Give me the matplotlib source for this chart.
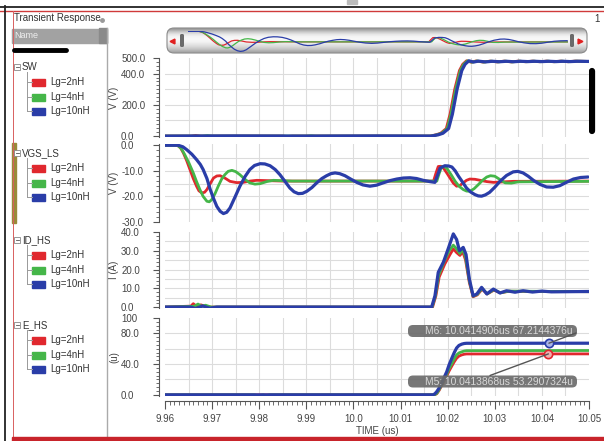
import numpy as np
import matplotlib
matplotlib.use("Agg")
import matplotlib.pyplot as plt
from matplotlib.patches import Rectangle, FancyBboxPatch, ConnectionPatch
from matplotlib.ticker import MultipleLocator, FixedLocator, FixedFormatter

plt.rcParams["font.family"] = ["Liberation Sans", "DejaVu Sans"]

W, H = 604, 441
RED, GREEN, BLUE = "#e0282e", "#45b649", "#2a3da8"

runs = ["Lg=2nH", "Lg=4nH", "Lg=10nH"]
signals = ["SW", "VGS_LS", "ID_HS", "E_HS"]
ylabels = ["V (V)", "V (V)", "I (A)", "(u)"]
time_ticks = [9.96, 9.97, 9.98, 9.99, 10.0, 10.01, 10.02, 10.03, 10.04, 10.05]
time_labels = ["9.96", "9.97", "9.98", "9.99", "10.0", "10.01", "10.02", "10.03", "10.04", "10.05"]

# (time us, value) pairs
sw_red = [(9.96, 0), (9.9655, 0), (9.9665, 4), (9.9675, 0), (9.985, 0), (9.986, -3), (9.987, 0),
          (10.0162, 0), (10.0175, 8), (10.0185, 18), (10.0197, 48), (10.0205, 140), (10.0215, 300),
          (10.0225, 420), (10.0232, 460), (10.024, 482), (10.025, 473), (10.026, 481), (10.0275, 474),
          (10.029, 480), (10.0305, 475), (10.032, 480), (10.0335, 475), (10.035, 480), (10.0365, 476),
          (10.038, 480), (10.0395, 476), (10.041, 480), (10.0425, 476), (10.044, 480), (10.0455, 476),
          (10.047, 480), (10.05, 478)]
sw_green = [(9.96, 0), (9.968, 0), (9.969, 3), (9.970, 0), (9.99, 0), (9.991, 2), (9.992, 0),
            (10.0164, 0), (10.0177, 8), (10.0187, 18), (10.0199, 48), (10.0207, 140), (10.0217, 300),
            (10.0227, 420), (10.0234, 460), (10.0242, 482), (10.0252, 473), (10.0262, 481),
            (10.0277, 474), (10.0292, 480), (10.0307, 475), (10.0322, 480), (10.0337, 475),
            (10.0352, 480), (10.0367, 476), (10.0382, 480), (10.0397, 476), (10.0412, 480),
            (10.0427, 476), (10.0442, 480), (10.0457, 476), (10.0472, 480), (10.05, 478)]
sw_blue = [(9.96, 0), (9.975, 1), (9.99, 0), (10.005, 1), (10.0165, 0), (10.018, 8), (10.019, 18),
           (10.0202, 48), (10.021, 140), (10.022, 300), (10.023, 420), (10.0237, 460), (10.0245, 482),
           (10.0255, 474), (10.0265, 480), (10.028, 475), (10.0295, 479), (10.031, 476), (10.0325, 479),
           (10.034, 476), (10.0355, 479), (10.037, 477), (10.0385, 479), (10.04, 477), (10.0415, 479),
           (10.043, 477), (10.0445, 479), (10.046, 477), (10.0475, 479), (10.05, 478)]

vgs_red = [(9.96, 0), (9.9626, 0), (9.9633, -1), (9.9639, -3), (9.9646, -6), (9.9653, -9.5),
           (9.966, -13), (9.9667, -16), (9.9672, -17.8), (9.9678, -18.6), (9.9684, -18.4),
           (9.9689, -17.3), (9.9696, -15), (9.9703, -12.8), (9.971, -12), (9.9717, -11.9),
           (9.9727, -12.8), (9.9738, -14.1), (9.9752, -14.6), (9.9766, -14.5), (9.978, -14),
           (9.9795, -13.7), (9.985, -14), (10.017, -14), (10.0175, -11), (10.018, -8.3),
           (10.0186, -8.2), (10.0191, -8.9), (10.0198, -10.8), (10.0205, -12.8), (10.0212, -14.8),
           (10.0219, -16), (10.0226, -15.7), (10.0233, -14.7), (10.024, -13.7), (10.0247, -13.2),
           (10.0258, -13.3), (10.0269, -13.7), (10.0283, -14.2), (10.0297, -14.5), (10.034, -14.1),
           (10.05, -14)]
vgs_green = [(9.96, 0), (9.9627, 0), (9.9635, -1.4), (9.9642, -3.7), (9.9651, -7), (9.966, -10.8),
             (9.9667, -14.2), (9.9674, -17.3), (9.9681, -20), (9.9689, -21.9), (9.9694, -22.1),
             (9.9699, -21.3), (9.9706, -19), (9.9713, -16), (9.972, -13.3), (9.9727, -11.5),
             (9.9734, -10.2), (9.9742, -9.8), (9.975, -10.3), (9.9759, -11.5), (9.9769, -13.2),
             (9.978, -14.7), (9.9791, -15.2), (9.9802, -15), (9.9816, -14.2), (9.983, -13.7),
             (9.987, -14), (10.0177, -14), (10.0182, -11), (10.0187, -8.5), (10.0192, -8.3),
             (10.0198, -8.9), (10.0207, -11.4), (10.0216, -14.1), (10.0224, -16), (10.0233, -17.3),
             (10.024, -17.9), (10.0247, -18), (10.0256, -17), (10.0265, -15.4), (10.0274, -13.7),
             (10.0283, -12.4), (10.0291, -11.9), (10.03, -12.1), (10.0311, -13.4), (10.0322, -14.7),
             (10.0335, -14.8), (10.035, -14.3), (10.05, -14.1)]
vgs_blue = [(9.96, 0), (9.9628, 0), (9.9638, -0.6), (9.9646, -1.7), (9.9657, -3.5), (9.9667, -5.6),
            (9.9675, -7.5), (9.9681, -9.5), (9.9689, -13), (9.9696, -17.3), (9.9703, -20.8),
            (9.971, -23.9), (9.9717, -25.8), (9.9724, -26.7), (9.9731, -26.2), (9.9738, -24.5),
            (9.9748, -20.5), (9.9759, -16), (9.977, -12.2), (9.978, -9.5), (9.979, -7.9),
            (9.9802, -7.2), (9.9812, -7.3), (9.9823, -8), (9.9834, -9.5), (9.9844, -11.5),
            (9.9855, -14.2), (9.9865, -16.7), (9.9874, -18.2), (9.9883, -18.9), (9.9892, -18.8),
            (9.9901, -18), (9.9912, -16.5), (9.9922, -14.7), (9.9933, -13), (9.9943, -11.9),
            (9.9952, -11.1), (9.9961, -10.8), (9.9971, -11.1), (9.9982, -11.9), (9.9995, -13.3),
            (10.0007, -14.5), (10.002, -15.5), (10.0035, -16), (10.0049, -15.6), (10.0063, -14.7),
            (10.0078, -13.8), (10.0092, -13.2), (10.0106, -12.8), (10.012, -12.7), (10.0134, -13.0),
            (10.0148, -13.7), (10.0162, -14.2), (10.0173, -14.5), (10.0179, -11.5), (10.0184, -8.9),
            (10.0194, -8), (10.0202, -8.1), (10.0209, -8.5), (10.0216, -10), (10.0223, -12.1),
            (10.0232, -14.5), (10.024, -16.7), (10.0249, -18.3), (10.0258, -19.3), (10.0265, -19.8),
            (10.0272, -19.9), (10.028, -19.4), (10.0289, -18.4), (10.03, -16.4), (10.0311, -14.1),
            (10.0325, -11.8), (10.0339, -10.4), (10.0349, -10.2), (10.036, -10.8), (10.0371, -12.1),
            (10.0382, -13.7), (10.0396, -15.3), (10.041, -16.3), (10.0424, -16.4), (10.0438, -15.8),
            (10.0452, -14.5), (10.0467, -13.2), (10.0482, -12.6), (10.0498, -12.4)]

id_red = [(9.96, 0), (9.9655, 0.5), (9.966, 1.8), (9.9668, 0.2), (9.9676, 1.2), (9.969, 0),
          (10.0168, 0), (10.0175, 6), (10.0182, 16), (10.0194, 23), (10.0205, 28), (10.0212, 31),
          (10.0219, 29), (10.0226, 27.5), (10.0232, 29.5), (10.0238, 25), (10.0246, 13),
          (10.0254, 5.5), (10.0263, 6.5), (10.0273, 9.5), (10.0284, 7), (10.0298, 9), (10.0312, 7.6),
          (10.033, 8.4), (10.05, 8.2)]
id_green = [(9.96, 0), (9.9662, 0.4), (9.967, 1.6), (9.9678, 0.3), (9.9686, 1.0), (9.9698, 0),
            (10.0167, 0), (10.0174, 6), (10.0181, 17), (10.0192, 24), (10.0203, 30), (10.0212, 33),
            (10.0219, 31), (10.0226, 28.5), (10.0232, 31), (10.0238, 26.5), (10.0246, 14),
            (10.0254, 5.8), (10.0263, 6.8), (10.0273, 10), (10.0284, 7), (10.0298, 9.3),
            (10.0312, 7.6), (10.033, 8.5), (10.05, 8.2)]
id_blue = [(9.96, 0), (9.9655, 0), (9.9665, -0.8), (9.968, 0.6), (9.9695, -0.6), (9.971, 0),
           (10.0166, 0), (10.0173, 6), (10.018, 18.5), (10.0191, 24), (10.0201, 31), (10.0212, 39),
           (10.0219, 36), (10.0225, 30), (10.0233, 31.8), (10.0239, 28), (10.0246, 15), (10.0254, 6),
           (10.0262, 7), (10.0272, 10.5), (10.0283, 7), (10.0297, 9.6), (10.0311, 7.5), (10.0325, 8.7),
           (10.0343, 7.9), (10.036, 8.7), (10.038, 8.0), (10.04, 8.5), (10.042, 8.1), (10.05, 8.3)]

e_red = [(9.96, 0), (10.0172, 0), (10.0177, 1.5), (10.0182, 6), (10.0187, 11.7), (10.0192, 18),
         (10.0198, 24.7), (10.0203, 31), (10.0209, 37.7), (10.0214, 43), (10.0219, 47.6),
         (10.0224, 50.4), (10.023, 52), (10.0235, 52.8), (10.024, 53.2), (10.05, 53.3)]
e_green = [(9.96, 0), (9.979, 0), (9.9798, -1.2), (9.9808, 0), (9.9815, -1), (9.9822, 0),
           (10.0172, 0), (10.0177, 2), (10.0182, 7), (10.0187, 13), (10.0192, 20), (10.0198, 27),
           (10.0203, 34), (10.0209, 41), (10.0214, 47), (10.0219, 52), (10.0224, 54.6), (10.023, 56),
           (10.0235, 57), (10.024, 57.5), (10.05, 57.7)]
e_blue = [(9.96, 0), (10.0169, 0), (10.0173, 1.5), (10.0177, 4.3), (10.0182, 9), (10.0187, 15),
          (10.0192, 22), (10.0198, 30), (10.0203, 39), (10.0209, 48), (10.0214, 55), (10.0219, 61),
          (10.0224, 64.3), (10.023, 66), (10.0235, 66.8), (10.024, 67.1), (10.05, 67.2)]

m6 = (10.0414906, 67.2144376)
m5 = (10.0413868, 53.2907324)
m6_text = "M6: 10.0414906us 67.2144376u"
m5_text = "M5: 10.0413868us 53.2907324u"

waves = [
    [sw_red, sw_green, sw_blue],
    [vgs_red, vgs_green, vgs_blue],
    [id_red, id_green, id_blue],
    [e_red, e_green, e_blue],
]
colors = [RED, GREEN, BLUE]

# per panel: pixel rows, ylim, major ticks and labels, minor step, grid rows
rows = [(58, 137), (144, 222), (232, 308), (318, 396)]
ylims = [(-6, 500), (-30, 0.5), (-0.5, 40), (-1.5, 100)]
yticks = [[0, 200, 400, 500], [-30, -20, -10, 0], [0, 10, 20, 30, 40], [0, 40, 80, 100]]
yticklabels = [["0.0", "200.0", "400.0", "500.0"], ["-30.0", "-20.0", "-10.0", "0.0"],
               ["0.0", "10.0", "20.0", "30.0", "40.0"], ["0.0", "40.0", "80.0", "100"]]
yminor = [25, 2, 2, 5]
ygrid = [[100, 200, 300, 400], [-25, -20, -15, -10, -5], [5, 10, 15, 20, 25, 30, 35], [20, 40, 60, 80]]
xgrid = np.arange(9.965, 10.0451, 0.005)


def px_rect(x0, y0, x1, y1):
    return [x0 / W, 1 - y1 / H, (x1 - x0) / W, (y1 - y0) / H]


fig = plt.figure(figsize=(W / 100, H / 100), dpi=100)
ov = fig.add_axes([0, 0, 1, 1], zorder=0)
ov.set_xlim(0, W)
ov.set_ylim(H, 0)
ov.axis("off")

# window frame
ov.plot([0, W], [6.5, 6.5], color="#222222", lw=1.3)
ov.plot([0, W], [11, 11], color="#d03a3a", lw=1.0)
ov.plot([5, 5], [6, H], color="#222222", lw=1.3)
ov.plot([12.5, 12.5], [11, 437], color="#d86060", lw=0.7)
ov.add_patch(Rectangle((12, 436.5), W - 12, 5, color="#c8242b", zorder=6))
ov.add_patch(Rectangle((347, 0), 10, 4, color="#bbbbbb"))
ov.plot([107, 107], [28, 436], color="#aaaaaa", lw=1.0)

# browser panel
ov.text(14, 18, "Transient Response", fontsize=7, color="#333333", va="center")
ov.add_patch(Rectangle((12, 29), 95, 14, color="#a2a2a2"))
ov.add_patch(Rectangle((99, 28), 8, 15, color="#8a8a8a"))
ov.text(14, 36, "Name", fontsize=6.5, color="#eeeeee", va="center")
ov.plot([14, 66], [50, 50], color="black", lw=3.5, solid_capstyle="round")
ov.add_patch(Rectangle((12, 143), 4, 80, color="#9a8a3a"))
ov.plot(102, 20, marker="o", ms=2.5, color="#999999")

group_y = [67, 153, 240, 325]
child_dy = [15, 30, 44]
for name, gy in zip(signals, group_y):
    ov.add_patch(Rectangle((14, gy - 3), 6, 6, fc="white", ec="#888888", lw=0.6))
    ov.plot([15.5, 18.5], [gy, gy], color="#555555", lw=0.6)
    ov.text(22, gy, name, fontsize=7, color="#333333", va="center")
    ov.plot([27, 27], [gy + 5, gy + child_dy[-1]], color="#999999", lw=0.7)
    for run, col, dy in zip(runs, colors, child_dy):
        cy = gy + dy
        ov.plot([27, 32], [cy, cy], color="#999999", lw=0.7)
        ov.add_patch(Rectangle((32, cy - 3.5), 13, 7, color=col))
        ov.text(50, cy, run, fontsize=7, color="#333333", va="center")

# overview strip
bar = FancyBboxPatch((167, 28), 420, 25, boxstyle="round,pad=0,rounding_size=7",
                     fc="none", ec="#8a8a8a", lw=0.8, zorder=3)
ov.add_patch(bar)
shade = np.array([0.62, 0.78, 0.9, 0.96, 0.97, 0.95, 0.9, 0.84, 0.76, 0.66])
img = np.repeat(shade[:, None], 2, axis=1)
im = ov.imshow(img, extent=[167, 587, 53, 28], cmap="gray", vmin=0, vmax=1,
               aspect="auto", interpolation="bilinear", zorder=2)
im.set_clip_path(bar)
ov.set_xlim(0, W)
ov.set_ylim(H, 0)
for hx in (182, 572):
    ov.add_patch(FancyBboxPatch((hx - 2, 34), 4, 13, boxstyle="round,pad=0,rounding_size=1.5",
                                fc="#6a6a6a", ec="none", zorder=4))
ov.plot(172, 41, marker="<", ms=3.5, color="#e02020", zorder=4)
ov.plot(580, 41, marker=">", ms=3.5, color="#e02020", zorder=4)

ax_ov = fig.add_axes(px_rect(188, 31, 568, 52), zorder=3)
ax_ov.patch.set_alpha(0)
for pts, col in zip(waves[1], colors):
    t, v = np.array(pts).T
    ax_ov.plot(t, v, color=col, lw=0.9)
ax_ov.set_xlim(9.96, 10.05)
ax_ov.set_ylim(-27.5, 0.5)
ax_ov.axis("off")

# scroll bar on the right
ov.plot([592, 592], [71, 131], color="black", lw=4.5, solid_capstyle="round")
ov.text(597, 19, "1", fontsize=7, color="#333333", ha="center", va="center")

axes = []
for i in range(4):
    y0, y1 = rows[i]
    ax = fig.add_axes(px_rect(165, y0, 589, y1), zorder=2)
    for pts, col in zip(waves[i], colors):
        t, v = np.array(pts).T
        ax.plot(t, v, color=col, lw=2.0 if col != BLUE else 2.3, solid_capstyle="round",
                solid_joinstyle="round", zorder=3)
    ax.set_xlim(9.96, 10.05)
    ax.set_ylim(*ylims[i])
    for gx in xgrid:
        ax.axvline(gx, color="#dcdcdc", lw=0.8, zorder=1)
    for gy in ygrid[i]:
        ax.axhline(gy, color="#dcdcdc", lw=0.8, zorder=1)
    for s in ("top", "right"):
        ax.spines[s].set_visible(False)
    ax.spines["left"].set_position(("outward", 4.3))
    ax.spines["left"].set_color("#555555")
    ax.set_yticks(yticks[i], labels=yticklabels[i], ha="left")
    ax.yaxis.set_minor_locator(MultipleLocator(yminor[i]))
    ax.tick_params(axis="y", which="major", direction="out", length=4.3, width=0.8,
                   color="#555555", labelsize=7, labelcolor="#444444", pad=23.0)
    ax.tick_params(axis="y", which="minor", direction="out", length=2.2, width=0.6, color="#555555")
    ov.text(114, (y0 + y1) / 2, ylabels[i], rotation=90, fontsize=7, color="#444444",
            ha="center", va="center")
    if i < 3:
        ax.spines["bottom"].set_visible(False)
        ax.tick_params(axis="x", which="both", bottom=False, labelbottom=False)
    axes.append(ax)

ax_e = axes[3]
ax_e.spines["bottom"].set_position(("outward", 3.6))
ax_e.spines["bottom"].set_color("#555555")
ax_e.xaxis.set_major_locator(FixedLocator(time_ticks))
ax_e.xaxis.set_major_formatter(FixedFormatter(time_labels))
ax_e.xaxis.set_minor_locator(MultipleLocator(0.001))
ax_e.tick_params(axis="x", which="major", direction="out", length=5.5, width=0.8,
                 color="#555555", labelsize=7, labelcolor="#444444", pad=4)
ax_e.tick_params(axis="x", which="minor", direction="out", length=2.8, width=0.6, color="#555555")
ov.text(377, 431, "TIME (us)", fontsize=7, color="#444444", ha="center", va="center")

# markers and their labels
ax_e.plot(*m6, marker="o", ms=6, mfc="#aab4e8", mec=BLUE, mew=1.2, zorder=5)
ax_e.plot(*m5, marker="o", ms=6, mfc="#f0b0b0", mec=RED, mew=1.2, zorder=5)
lab_ax = fig.add_axes([0, 0, 1, 1], zorder=4)
lab_ax.set_xlim(0, W)
lab_ax.set_ylim(H, 0)
lab_ax.axis("off")
for (bx, by), txt in [((408, 325), m6_text), ((408, 375.5), m5_text)]:
    lab_ax.add_patch(FancyBboxPatch((bx, by), 169, 12, boxstyle="round,pad=0,rounding_size=5",
                                    fc="#6b6b6b", ec="none", alpha=0.92))
    lab_ax.text(bx + 91, by + 6.3, txt, fontsize=7.4, color="#d8d8d8", ha="center", va="center")
fig.add_artist(ConnectionPatch(xyA=(576, 333), coordsA=lab_ax.transData, xyB=m6,
                               coordsB=ax_e.transData, color="#555555", lw=1.0, zorder=5))
fig.add_artist(ConnectionPatch(xyA=(490, 375.5), coordsA=lab_ax.transData, xyB=m5,
                               coordsB=ax_e.transData, color="#555555", lw=1.0, zorder=5))

fig.savefig("out.png", dpi=100, facecolor="white")
